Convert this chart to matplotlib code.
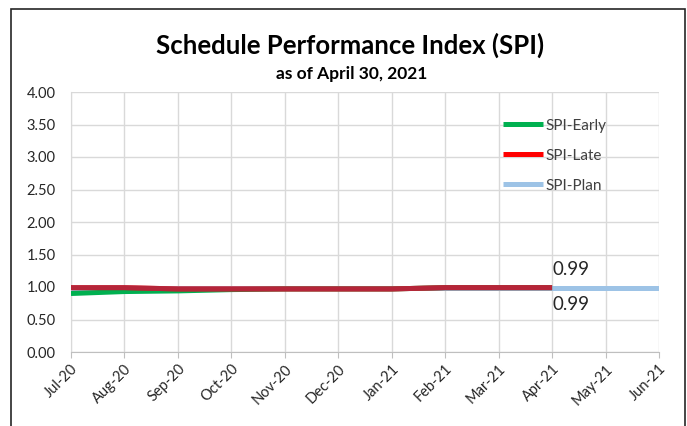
"""Schedule Performance Index chart."""

import matplotlib
matplotlib.use('Agg')
import matplotlib.pyplot as plt
from matplotlib.patches import Rectangle

months = ['Jul-20', 'Aug-20', 'Sep-20', 'Oct-20', 'Nov-20', 'Dec-20',
          'Jan-21', 'Feb-21', 'Mar-21', 'Apr-21', 'May-21', 'Jun-21']
spi_early = [0.90, 0.93, 0.94, 0.96, 0.97, 0.97, 0.97, 0.99, 0.99, 0.99]
spi_late = [0.99, 0.99, 0.97, 0.97, 0.97, 0.97, 0.97, 0.99, 0.99, 0.99]
spi_plan = [0.99] * 12
yticks = [0.0, 0.5, 1.0, 1.5, 2.0, 2.5, 3.0, 3.5, 4.0]


def main():
    plt.rcParams['font.family'] = ['Lato', 'DejaVu Sans']
    fig = plt.figure(figsize=(6.87, 4.26), dpi=100)
    ax = fig.add_axes([71 / 687, 1 - 352 / 426, 588 / 687, 260 / 426])

    x = list(range(len(months)))
    ax.plot(x, spi_plan, color='#9DC3E6', lw=3.6, label='SPI-Plan',
            solid_capstyle='butt', zorder=3)
    ax.plot(x[:len(spi_early)], spi_early, color='#00B050', lw=3.6,
            label='SPI-Early', solid_capstyle='butt', zorder=4)
    ax.plot(x[:len(spi_late)], spi_late, color='#FF0000', lw=3.6,
            label='SPI-Late', solid_capstyle='butt', zorder=5)
    ax.plot(x[:len(spi_late)], spi_late, color='#8E3A59', lw=3.6,
            alpha=0.65, solid_capstyle='butt', zorder=6)

    i = len(spi_late) - 1
    ax.annotate('{0:.2f}'.format(spi_late[i]), (x[i], spi_late[i]),
                xytext=(0, 7), textcoords='offset points', ha='left',
                va='bottom', fontsize=13.5, color='#262626')
    ax.annotate('{0:.2f}'.format(spi_early[i]), (x[i], spi_early[i]),
                xytext=(0, -6), textcoords='offset points', ha='left',
                va='top', fontsize=13.5, color='#262626')

    ax.set_xlim(0, len(months) - 1)
    ax.set_ylim(0, 4)
    ax.set_xticks(x)
    ax.set_xticklabels(months, rotation=45, ha='right', rotation_mode='anchor',
                       fontsize=10.5, color='#262626')
    ax.set_yticks(yticks)
    ax.set_yticklabels(['{0:.2f}'.format(v) for v in yticks], fontsize=10.5,
                       color='#262626')
    ax.grid(True, color='#D9D9D9', lw=1)
    ax.set_axisbelow(True)
    for side in ['top', 'right']:
        ax.spines[side].set_visible(False)
    ax.spines['left'].set_color('#D9D9D9')
    ax.spines['bottom'].set_color('#BFBFBF')
    ax.tick_params(axis='y', length=0, pad=11)
    ax.tick_params(axis='x', length=4, color='#BFBFBF', pad=3)

    handles, labels = ax.get_legend_handles_labels()
    order = [1, 2, 0]
    ax.legend([handles[k] for k in order], [labels[k] for k in order],
              loc='upper left', bbox_to_anchor=(0.712, 0.95), frameon=False,
              fontsize=11, handlelength=2.6, handletextpad=0.15,
              labelspacing=1.05, labelcolor='#404040')

    fig.text(350 / 687, 1 - 45 / 426, 'Schedule Performance Index (SPI)',
             ha='center', va='center', fontsize=18.5, fontweight='bold')
    fig.text(352 / 687, 1 - 74 / 426, 'as of April 30, 2021',
             ha='center', va='center', fontsize=12.5, fontweight='bold')

    fig.patches.append(Rectangle((11 / 687, -0.1), 674 / 687,
                                 1.1 - 9 / 426, transform=fig.transFigure,
                                 fill=False, edgecolor='#262626', lw=1.2))
    fig.savefig('out.png', dpi=100)


if __name__ == '__main__':
    main()
